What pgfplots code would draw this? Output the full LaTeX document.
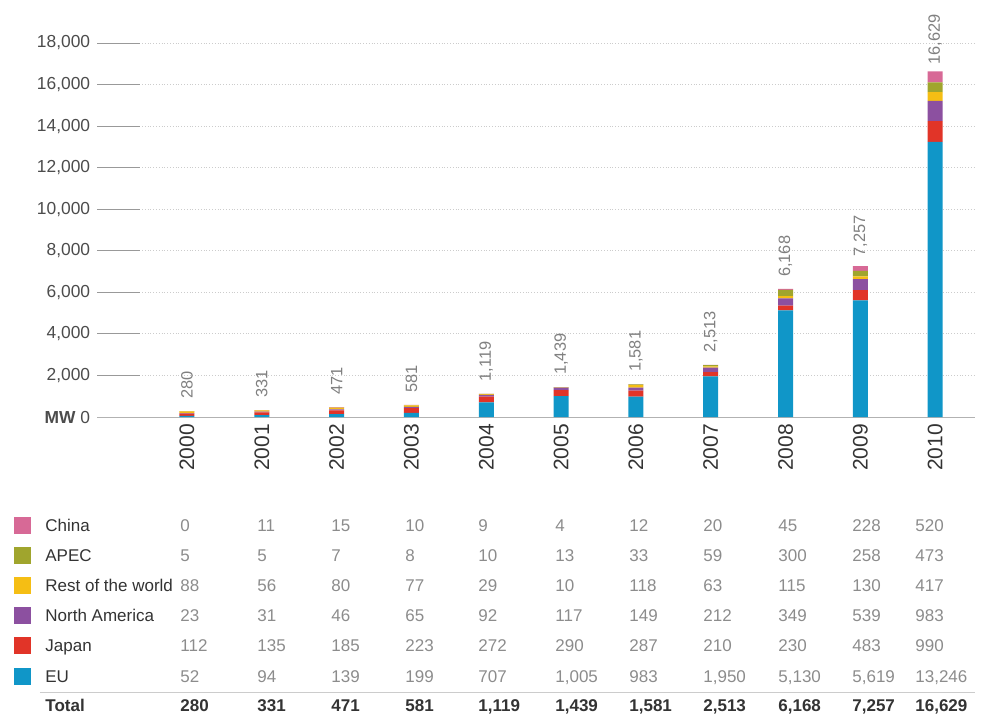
\documentclass[border=0pt]{standalone}
\usepackage{pgfplots}
\pgfplotsset{compat=1.18}
\usepackage{pgfplotstable}
\usepackage{fontspec}
\setmainfont{Liberation Sans}
\definecolor{cEU}{RGB}{16,150,200}
\definecolor{cJapan}{RGB}{225,52,40}
\definecolor{cNA}{RGB}{140,80,160}
\definecolor{cRoW}{RGB}{245,190,20}
\definecolor{cAPEC}{RGB}{160,165,45}
\definecolor{cChina}{RGB}{215,105,150}

\pgfplotstableread{
x EU Japan NA RoW APEC China Total
0 52 112 23 88 5 0.01 280
1 94 135 31 56 5 11 331
2 139 185 46 80 7 15 471
3 199 223 65 77 8 10 581
4 707 272 92 29 10 9 1119
5 1005 290 117 10 13 4 1439
6 983 287 149 118 33 12 1581
7 1950 210 212 63 59 20 2513
8 5130 230 349 115 300 45 6168
9 5619 483 539 130 258 228 7257
10 13246 990 983 417 473 520 16629
}\datatable

\newcommand\tabrow[3]{%
  \foreach \v [count=\i from 0] in {#2} {%
    \pgfmathsetmacro\xx{{-3.5,35,72,109,145.5,184,221,258,295.5,332.5,364}[\i]}%
    \node[anchor=base west, inner sep=0, font=\fontsize{8.5}{10}\selectfont#3] at (\xx pt, #1 pt-3pt) {\v};
  }}

\begin{document}
\begin{tikzpicture}
\useasboundingbox (-93.5pt,-148.5pt) rectangle (398.5pt,208.5pt);
\begin{axis}[
  at={(0,0)}, anchor=origin,
  scale only axis, width=439pt, height=187pt,
  xmin=-1.2, xmax=10.535, ymin=0, ymax=18000,
  ybar stacked, bar width=7.5pt,
  clip=false,
  axis x line*=bottom, axis y line*=left,
  x axis line style={-, draw=gray!60},
  y axis line style={draw=none},
  xtick={0,...,10},
  xticklabels={2000,2001,2002,2003,2004,2005,2006,2007,2008,2009,2010},
  xtick style={draw=none},
  xticklabel style={rotate=90, anchor=east, font=\fontsize{10.5}{12}\selectfont, text=black!80},
  ytick={0,2000,4000,6000,8000,10000,12000,14000,16000,18000},
  yticklabels={{\textbf{MW} 0},{2,000},{4,000},{6,000},{8,000},{10,000},{12,000},{14,000},{16,000},{18,000}},
  scaled y ticks=false,
  ytick style={draw=gray!80, thin},
  tick align=inside, major tick length=21.5pt,
  ymajorgrids, grid style={densely dotted, gray!40},
  yticklabel style={font=\fontsize{8.7}{10}\selectfont, text=black!70},
  /pgf/number format/1000 sep={,},
  /pgf/number format/assume math mode=true,
]
\addplot[fill=cEU, draw=none] table[x=x,y=EU]{\datatable};
\addplot[fill=cJapan, draw=none] table[x=x,y=Japan]{\datatable};
\addplot[fill=cNA, draw=none] table[x=x,y=NA]{\datatable};
\addplot[fill=cRoW, draw=none] table[x=x,y=RoW]{\datatable};
\addplot[fill=cAPEC, draw=none] table[x=x,y=APEC]{\datatable};
\addplot[fill=cChina, draw=none, point meta=explicit,
  nodes near coords={\pgfmathprintnumber[assume math mode=true]{\pgfplotspointmeta}},
  every node near coord/.append style={rotate=90, anchor=west, inner xsep=6pt, inner ysep=0pt,
    font=\fontsize{8.2}{10}\selectfont, text=black!50}]
  table[x=x,y=China,meta=Total]{\datatable};
\end{axis}

\foreach \name/\col/\yy in {China/cChina/-54, APEC/cAPEC/-69, {Rest of the world}/cRoW/-84, {North America}/cNA/-99, Japan/cJapan/-114, EU/cEU/-129.5} {
  \node[fill=\col, minimum size=8.5pt, inner sep=0] at (-82.25pt,\yy pt) {};
  \node[anchor=base west, inner sep=0, font=\fontsize{8.5}{10}\selectfont, text=black!80] at (-71pt,\yy pt-3pt) {\name};
}
\node[anchor=base west, inner sep=0, font=\fontsize{8.5}{10}\selectfont\bfseries, text=black!80] at (-71pt,-147pt) {Total};
\draw[gray!40] (-73.5pt,-137.5pt) -- (394pt,-137.5pt);

\tabrow{-54}{0,11,15,10,9,4,12,20,45,228,520}{\color{black!45}}
\tabrow{-69}{5,5,7,8,10,13,33,59,300,258,473}{\color{black!45}}
\tabrow{-84}{88,56,80,77,29,10,118,63,115,130,417}{\color{black!45}}
\tabrow{-99}{23,31,46,65,92,117,149,212,349,539,983}{\color{black!45}}
\tabrow{-114}{112,135,185,223,272,290,287,210,230,483,990}{\color{black!45}}
\tabrow{-129.5}{52,94,139,199,707,{1,005},983,{1,950},{5,130},{5,619},{13,246}}{\color{black!45}}
\tabrow{-144}{280,331,471,581,{1,119},{1,439},{1,581},{2,513},{6,168},{7,257},{16,629}}{\bfseries\color{black!80}}
\end{tikzpicture}
\end{document}
